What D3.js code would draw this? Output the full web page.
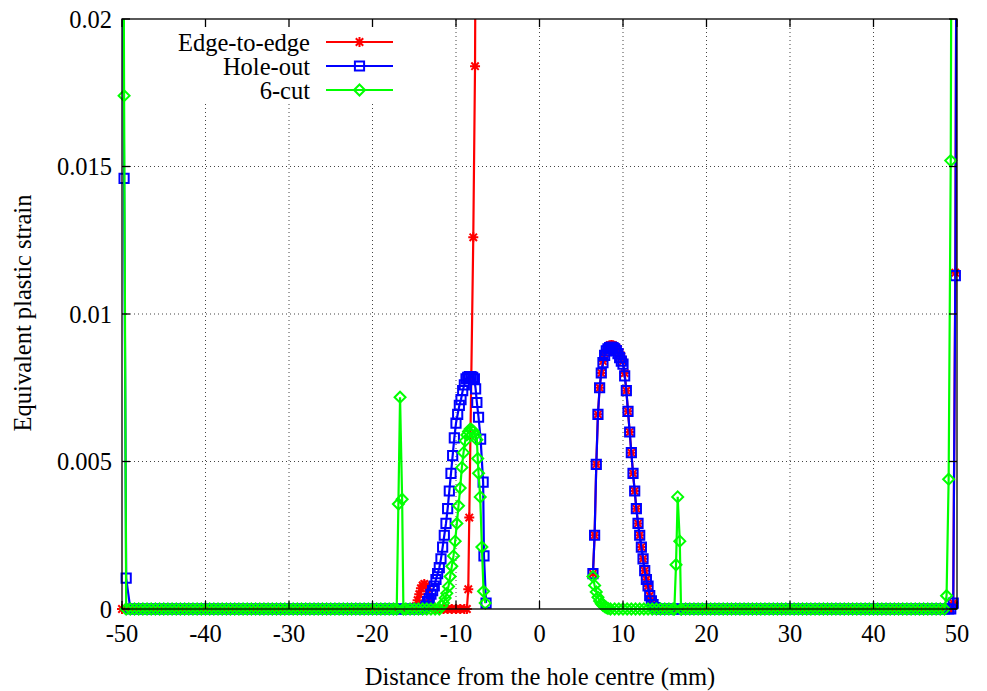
<!DOCTYPE html>
<html>
<head>
<meta charset="utf-8">
<title>Equivalent plastic strain</title>
<script src="https://d3js.org/d3.v7.min.js"></script>
<style>
  body { margin: 0; background: #fff; }
  text { font-family: "Liberation Serif", "Times New Roman", serif; font-size: 24.5px; fill: #000; }
</style>
</head>
<body>
<svg id="chart" width="987" height="691"></svg>
<script>
var xTicks = [-50, -40, -30, -20, -10, 0, 10, 20, 30, 40, 50];
var yTicks = [0, 0.005, 0.01, 0.015, 0.02];
var yTickLabels = ["0", "0.005", "0.01", "0.015", "0.02"];
var names = ["Edge-to-edge", "Hole-out", "6-cut"];
var colors = ["#ff0000", "#0000ff", "#00ff00"];
var symbols = ["star", "square", "diamond"];

// mesh nodes along the plate where the strain is zero
var flatX = [-49.5,-49,-48.5,-48,-47.5,-47,-46.5,-46,-45.5,-45,-44.5,-44,-43.5,-43,-42.5,-42,-41.5,-41,-40.5,-40,
  -39.5,-39,-38.5,-38,-37.5,-37,-36.5,-36,-35.5,-35,-34.5,-34,-33.5,-33,-32.5,-32,-31.5,-31,-30.5,-30,
  -29.5,-29,-28.5,-28,-27.5,-27,-26.5,-26,-25.5,-25,-24.5,-24,-23.5,-23,-22.5,-22,-21.5,-21,-20.5,-20,
  -19.5,-19,-18.5,-18,-17.5,-17,-16.5,-16,-15.5,-15,-14.5,-14,-13.5,-13,-12.5,-12,-11.5,-11,-10.5,-10,-9.5,-9,
  8.5,9,9.5,10,10.5,11,11.5,12,12.5,13,13.5,14,14.5,15,15.5,16,16.5,17,17.5,18,18.5,19,19.5,20,
  20.5,21,21.5,22,22.5,23,23.5,24,24.5,25,25.5,26,26.5,27,27.5,28,28.5,29,29.5,30,
  30.5,31,31.5,32,32.5,33,33.5,34,34.5,35,35.5,36,36.5,37,37.5,38,38.5,39,39.5,40,
  40.5,41,41.5,42,42.5,43,43.5,44,44.5,45,45.5,46,46.5,47,47.5,48,48.5,49];

// right side of the hole, shared by Edge-to-edge and Hole-out
var peakX = [6.4,6.6,6.8,7.0,7.2,7.4,7.6,7.8,8.0,8.2,8.4,8.6,8.8,9.0,9.2,9.4,9.6,9.8,10.0,10.2,10.4,10.6,10.8,11.0,
  11.2,11.4,11.6,11.8,12.0,12.2,12.4,12.6,12.8,13.0,13.2,13.4,13.6,13.8,14.0];

// Edge-to-edge
var edgeLeftX = [-50], edgeLeftY = [0];
var edgeHumpX = [-14.8,-14.6,-14.4,-14.2,-14.0,-13.8,-13.6,-13.4,-13.2,-13.0];
var edgeHumpY = [0.0001,0.0003,0.0005,0.0007,0.0008,0.00085,0.0008,0.0006,0.0003,0.0001];
var edgeSpikeX = [-8.7,-8.53,-8.41,-7.93,-7.72,-7.5];
var edgeSpikeY = [0,0.00067,0.0031,0.0126,0.0184,0.035];
var edgePeakY = [0.0012,0.0025,0.0049,0.0066,0.0075,0.008,0.0084,0.00866,0.0088,0.0089,0.00894,0.00895,0.00894,0.0089,
  0.00886,0.0088,0.0087,0.00855,0.0084,0.008,0.0074,0.0067,0.006,0.0053,0.0046,0.004,0.0034,0.0029,0.0025,0.0021,
  0.0017,0.0013,0.001,0.00078,0.00045,0.00028,0.00015,0.00005,0];
var edgeRightX = [49.25,49.55,49.8,50], edgeRightY = [0,0.0002,0.0114,0.03];

// Hole-out
var holeLeftX = [-50,-49.75,-49.5], holeLeftY = [0.03,0.0146,0.00105];
var holePeakLX = [-13.6,-13.4,-13.2,-13.0,-12.8,-12.6,-12.4,-12.2,-12.0,-11.8,-11.6,-11.4,-11.2,-11.0,-10.8,-10.6,
  -10.4,-10.2,-10.0,-9.8,-9.6,-9.4,-9.2,-9.0,-8.8,-8.6,-8.4,-8.2,-8.0,-7.8,-7.65,-7.5,-7.3,-7.05,-6.75,-6.65,-6.4];
var holePeakLY = [0.0001,0.00025,0.00035,0.0005,0.00062,0.00078,0.001,0.0012,0.0014,0.0017,0.0021,0.0025,0.0029,0.0034,
  0.004,0.0046,0.0052,0.0058,0.0063,0.0066,0.0069,0.0071,0.0074,0.0076,0.0078,0.00785,0.00788,0.00788,0.00785,0.0078,
  0.00746,0.007,0.0065,0.00576,0.0043,0.0018,0.0002];
var holePeakY = [0.0012,0.0025,0.0049,0.0066,0.0075,0.008,0.00835,0.0086,0.00875,0.00882,0.00886,0.00888,0.00886,0.00882,
  0.00876,0.00866,0.00852,0.0084,0.0083,0.0079,0.0074,0.0067,0.006,0.0053,0.0046,0.004,0.0034,0.0029,0.0025,0.0021,
  0.0017,0.0013,0.001,0.00078,0.00045,0.00028,0.00015,0.00005,0];
var holeRightX = [49.25,49.55,49.8,50], holeRightY = [0,0.0002,0.0113,0.03];

// 6-cut
var cutLeftX = [-50,-49.75,-49.5], cutLeftY = [0.04,0.0174,0];
var cutSpikeLX = [-17.1,-16.9,-16.7,-16.45,-16.3], cutSpikeLY = [0,0.00356,0.00718,0.00372,0];
var cutPeakLX = [-11.7,-11.5,-11.3,-11.1,-10.9,-10.7,-10.5,-10.3,-10.1,-9.9,-9.7,-9.5,-9.3,-9.1,-8.9,-8.7,-8.5,-8.3,
  -8.1,-7.9,-7.7,-7.5,-7.4,-7.3,-7.1,-6.9,-6.7,-6.5];
var cutPeakLY = [0.0001,0.0002,0.00037,0.00053,0.00076,0.0011,0.00145,0.0018,0.0023,0.0029,0.0035,0.0041,0.0048,0.0053,
  0.0057,0.0059,0.00602,0.0061,0.00607,0.00602,0.0059,0.00574,0.0051,0.0046,0.0038,0.0021,0.0006,0.0002];
var cutPeakRX = [6.4,6.6,6.8,7.0,7.2,7.4,7.6,7.8,8.0,8.2];
var cutPeakRY = [0.0011,0.0008,0.00058,0.0004,0.00027,0.00018,0.00012,0.00008,0.00005,0.00002];
var cutSpikeRX = [16.15,16.35,16.55,16.8,16.95], cutSpikeRY = [0,0.0015,0.0038,0.0023,0];
var cutRightX = [48.5,48.75,49.0,49.25,49.5], cutRightY = [0,0.00045,0.0044,0.0152,0.04];

var seriesParts = [
  [[edgeLeftX, edgeLeftY], [edgeHumpX, edgeHumpY], [edgeSpikeX, edgeSpikeY], [peakX, edgePeakY], [edgeRightX, edgeRightY]],
  [[holeLeftX, holeLeftY], [holePeakLX, holePeakLY], [peakX, holePeakY], [holeRightX, holeRightY]],
  [[cutLeftX, cutLeftY], [cutSpikeLX, cutSpikeLY], [cutPeakLX, cutPeakLY], [cutPeakRX, cutPeakRY],
   [cutSpikeRX, cutSpikeRY], [cutRightX, cutRightY]]
];

// join the typed parts with the zero nodes, split where the hole is
function build(parts) {
  var pts = [];
  parts.forEach(function(p) {
    p[0].forEach(function(x, i) { pts.push({x: x, y: p[1][i]}); });
  });
  flatX.forEach(function(x) {
    var inside = parts.some(function(p) { return x >= d3.min(p[0]) && x <= d3.max(p[0]); });
    if (!inside) pts.push({x: x, y: 0});
  });
  pts.sort(function(a, b) { return a.x - b.x; });
  var segs = [[]];
  pts.forEach(function(d, i) {
    if (i > 0 && d.x - pts[i - 1].x > 5) segs.push([]);
    segs[segs.length - 1].push(d);
  });
  return segs;
}

var pLeft = 122, pRight = 957, pTop = 19, pBottom = 609;
var svg = d3.select("#chart");
var x = d3.scaleLinear().domain([-50, 50]).range([pLeft, pRight]);
var y = d3.scaleLinear().domain([0, 0.02]).range([pBottom, pTop]);

svg.append("defs").append("clipPath").attr("id", "plotclip")
  .append("rect").attr("x", pLeft).attr("y", pTop).attr("width", pRight - pLeft).attr("height", pBottom - pTop);

// dotted grid
var grid = svg.append("g").attr("stroke", "#444").attr("stroke-width", 1).attr("stroke-dasharray", "1,3");
grid.selectAll(".gx").data(xTicks.slice(1, -1)).enter().append("line")
  .attr("x1", function(d) { return x(d); }).attr("x2", function(d) { return x(d); })
  .attr("y1", pBottom).attr("y2", pTop);
grid.selectAll(".gy").data(yTicks.slice(1, -1)).enter().append("line")
  .attr("y1", function(d) { return y(d); }).attr("y2", function(d) { return y(d); })
  .attr("x1", pLeft).attr("x2", pRight);

function marker(g, type, color) {
  var p = g.append("path").attr("fill", "none").attr("stroke", color).attr("stroke-width", 2);
  if (type == "square") p.attr("d", "M-4.6,-4.6H4.6V4.6H-4.6Z");
  else if (type == "diamond") p.attr("d", "M0,-5.5L5.5,0L0,5.5L-5.5,0Z");
  else p.attr("d", "M-5,0H5M0,-5V5M-3.7,-3.7L3.7,3.7M-3.7,3.7L3.7,-3.7");
}

var line = d3.line().x(function(d) { return x(d.x); }).y(function(d) { return y(d.y); });

seriesParts.forEach(function(parts, s) {
  var segs = build(parts);
  var g = svg.append("g");
  g.append("g").attr("clip-path", "url(#plotclip)").selectAll("path").data(segs).enter().append("path")
    .attr("d", line).attr("fill", "none").attr("stroke", colors[s]).attr("stroke-width", 2.2);
  var pts = [].concat.apply([], segs).filter(function(d) { return d.y <= 0.02 && d.y >= 0; });
  g.selectAll(".pt").data(pts).enter().append("g")
    .attr("transform", function(d) { return "translate(" + x(d.x) + "," + y(d.y) + ")"; })
    .each(function() { marker(d3.select(this), symbols[s], colors[s]); });
});

// key, drawn opaque over the grid
var key = svg.append("g");
key.append("rect").attr("x", 168).attr("y", pTop + 1).attr("width", 236).attr("height", 84).attr("fill", "#fff");
names.forEach(function(n, i) {
  var ky = 42 + i * 24;
  key.append("text").attr("x", 310).attr("y", ky).attr("dy", "0.35em").attr("text-anchor", "end").text(n);
  key.append("line").attr("x1", 326).attr("x2", 393).attr("y1", ky).attr("y2", ky)
    .attr("stroke", colors[i]).attr("stroke-width", 2.2);
  marker(key.append("g").attr("transform", "translate(359.5," + ky + ")"), symbols[i], colors[i]);
});

// border and ticks
var axis = svg.append("g").attr("stroke", "#000").attr("stroke-width", 1.3);
axis.append("rect").attr("x", pLeft).attr("y", pTop).attr("width", pRight - pLeft).attr("height", pBottom - pTop).attr("fill", "none");
xTicks.forEach(function(t) {
  axis.append("line").attr("x1", x(t)).attr("x2", x(t)).attr("y1", pBottom).attr("y2", pBottom - 8);
  axis.append("line").attr("x1", x(t)).attr("x2", x(t)).attr("y1", pTop).attr("y2", pTop + 8);
});
yTicks.forEach(function(t) {
  axis.append("line").attr("x1", pLeft).attr("x2", pLeft + 8).attr("y1", y(t)).attr("y2", y(t));
  axis.append("line").attr("x1", pRight).attr("x2", pRight - 8).attr("y1", y(t)).attr("y2", y(t));
});

svg.append("g").selectAll("text").data(xTicks).enter().append("text")
  .attr("x", function(d) { return x(d); }).attr("y", 642).attr("text-anchor", "middle")
  .text(function(d) { return d; });
svg.append("g").selectAll("text").data(yTicks).enter().append("text")
  .attr("x", 112).attr("y", function(d) { return y(d); }).attr("dy", "0.35em").attr("text-anchor", "end")
  .text(function(d, i) { return yTickLabels[i]; });

svg.append("text").attr("x", 540).attr("y", 685).attr("text-anchor", "middle").text("Distance from the hole centre (mm)");
svg.append("text").attr("transform", "translate(22,313) rotate(-90)").attr("dy", "0.35em")
  .attr("text-anchor", "middle").text("Equivalent plastic strain");
</script>
</body>
</html>
